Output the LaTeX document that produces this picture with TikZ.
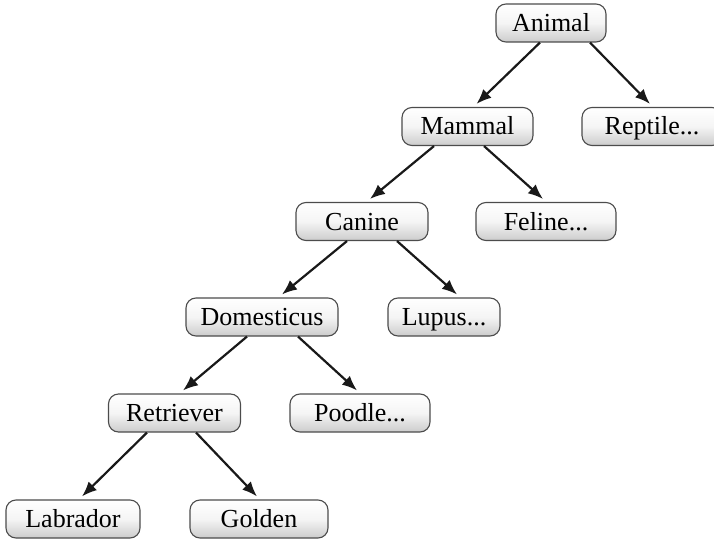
\documentclass[tikz,border=0pt]{standalone}
\usepackage{fontspec}
\setmainfont{Liberation Serif}
\usepackage{tikz}
\usetikzlibrary{positioning, arrows.meta}

\begin{document}
\begin{tikzpicture}[x=1pt, y=-1pt,
  box/.style={draw=black!70, line width=1.1pt, rounded corners=10pt, top color=white, bottom color=black!20,
    middle color=black!4, minimum height=38pt, inner sep=0pt, text height=20.5pt, text depth=3.5pt,
    font=\fontsize{26}{30}\selectfont},
  arr/.style={line width=2.2pt, black!90, -{Latex[length=15pt,width=12pt]}}]
\useasboundingbox (0,0) rectangle (714,540);
% levels of the tree
\node[box, minimum width=110pt] (animal) at (551,23) {Animal};
\node[box, minimum width=131pt] (mammal) at (467.5,126.5) {Mammal};
\node[box, minimum width=140pt] (reptile) at (652,126.5) {Reptile...};
\node[box, minimum width=132pt] (canine) at (362,221.5) {Canine};
\node[box, minimum width=140pt] (feline) at (546,221.5) {Feline...};
\node[box, minimum width=152pt] (domesticus) at (262,317) {Domesticus};
\node[box, minimum width=112pt] (lupus) at (444,317) {Lupus...};
\node[box, minimum width=132pt] (retriever) at (174.5,413) {Retriever};
\node[box, minimum width=140pt] (poodle) at (360,413) {Poodle...};
\node[box, minimum width=134pt] (labrador) at (73,519) {Labrador};
\node[box, minimum width=138pt] (golden) at (259,519) {Golden};
% arrows
\draw[arr] ([xshift=-11pt]animal.south) -- ([xshift=9pt,yshift=3pt]mammal.north);
\draw[arr] ([xshift=39pt]animal.south) -- ([xshift=-2pt,yshift=3pt]reptile.north);
\draw[arr] ([xshift=-33.5pt]mammal.south) -- ([xshift=8pt,yshift=3pt]canine.north);
\draw[arr] ([xshift=16.5pt]mammal.south) -- ([xshift=-3pt,yshift=3pt]feline.north);
\draw[arr] ([xshift=-15pt]canine.south) -- ([xshift=20pt,yshift=3pt]domesticus.north);
\draw[arr] ([xshift=35pt]canine.south) -- ([xshift=13pt,yshift=3pt]lupus.north);
\draw[arr] ([xshift=-15pt]domesticus.south) -- ([xshift=8.5pt,yshift=3pt]retriever.north);
\draw[arr] ([xshift=36pt]domesticus.south) -- ([xshift=-3pt,yshift=3pt]poodle.north);
\draw[arr] ([xshift=-27.5pt]retriever.south) -- ([xshift=9pt,yshift=3pt]labrador.north);
\draw[arr] ([xshift=21.5pt]retriever.south) -- ([xshift=-2pt,yshift=3pt]golden.north);
\end{tikzpicture}
\end{document}
